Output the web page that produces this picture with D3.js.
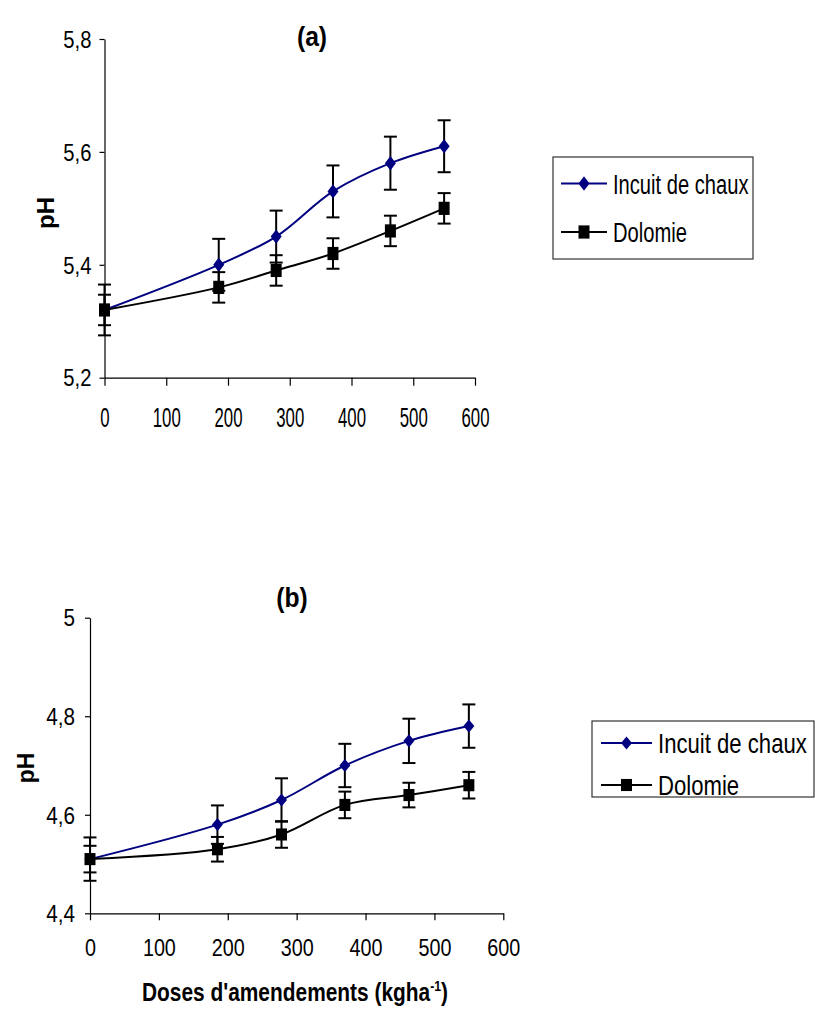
<!DOCTYPE html>
<html>
<head>
<meta charset="utf-8">
<script src="https://cdn.jsdelivr.net/npm/d3@7"></script>
<style>
  body { margin: 0; background: #fff; }
  svg text { font-family: "Liberation Sans", Arial, sans-serif; fill: #000; }
</style>
</head>
<body>
<div class="canvas"></div>
<script>
// doses (kg/ha) and pH values
const doses = [0, 185, 278, 370, 463, 550];
const xTicks = [0, 100, 200, 300, 400, 500, 600];

const phA_incuit = [5.32, 5.40, 5.45, 5.53, 5.58, 5.61];
const errA_incuit = [0.045, 0.046, 0.046, 0.046, 0.047, 0.046];
const phA_dolomie = [5.32, 5.36, 5.39, 5.42, 5.46, 5.50];
const errA_dolomie = [0.027, 0.027, 0.027, 0.027, 0.027, 0.027];
const yTicksA = [5.2, 5.4, 5.6, 5.8];

const phB_incuit = [4.51, 4.58, 4.63, 4.70, 4.75, 4.78];
const errB_incuit = [0.044, 0.039, 0.044, 0.044, 0.045, 0.044];
const phB_dolomie = [4.51, 4.53, 4.56, 4.62, 4.64, 4.66];
const errB_dolomie = [0.027, 0.025, 0.027, 0.027, 0.025, 0.027];
const yTicksB = [4.4, 4.6, 4.8, 5.0];

const seriesNames = ['Incuit de chaux', 'Dolomie'];
const seriesColors = ['#000080', '#000000'];

const svg = d3.select('.canvas')
  .append('svg')
  .attr('width', 815)
  .attr('height', 1017);

const fmt = d => String(d).replace('.', ',');

// no narrow font installed: squeeze the glyphs horizontally instead
const narrow = (sx) => `scale(${sx}, 1)`;

function drawPanel(opts) {
  const x = d3.scaleLinear().domain([0, 600]).range([opts.x0, opts.x1]);
  const y = d3.scaleLinear().domain(opts.yDomain).range([opts.yBottom, opts.yTop]);

  const g = svg.append('g');

  // axes
  const xAxis = g.append('g')
    .attr('transform', `translate(0, ${opts.yBottom})`)
    .call(d3.axisBottom(x).tickValues(xTicks).tickSize(opts.xTickLen).tickSizeOuter(0));
  xAxis.selectAll('text')
    .attr('font-size', opts.xt.size).attr('font-family', null)
    .attr('y', 0).attr('dy', '0.36em')
    .attr('transform', `translate(0, ${opts.xt.cy - opts.yBottom}) ${narrow(opts.xt.sx)}`);

  const yAxis = g.append('g')
    .attr('transform', `translate(${opts.x0}, 0)`)
    .call(d3.axisLeft(y).tickValues(opts.yTicks).tickFormat(fmt).tickSize(5).tickSizeOuter(0));
  yAxis.selectAll('text')
    .attr('font-size', opts.yt.size).attr('font-family', null)
    .attr('x', 0).attr('dy', '0.36em')
    .attr('transform', `translate(${-opts.yt.gap}, 0) ${narrow(opts.yt.sx)}`);
  g.selectAll('.domain, .tick line').attr('stroke', '#000').attr('stroke-width', 1.2);

  // title and y label
  g.append('text')
    .attr('transform', `translate(${opts.title.x}, ${opts.title.y}) ${narrow(0.88)}`)
    .attr('text-anchor', 'middle').attr('dy', '0.36em')
    .attr('font-size', 28).attr('font-weight', 'bold')
    .text(opts.title.text);

  g.append('text')
    .attr('transform', `translate(${opts.pH.x}, ${opts.pH.y}) rotate(-90)`)
    .attr('text-anchor', 'middle').attr('dy', '0.3em')
    .attr('font-size', opts.pH.size).attr('font-weight', 'bold')
    .text('pH');

  const line = d3.line()
    .x(d => x(d.dose))
    .y(d => y(d.ph))
    .curve(d3.curveCatmullRom);

  opts.series.forEach((s, k) => {
    const data = doses.map((dose, i) => ({ dose: dose, ph: s.ph[i], err: s.err[i] }));
    const sg = g.append('g');

    sg.append('path')
      .datum(data)
      .attr('fill', 'none')
      .attr('stroke', seriesColors[k])
      .attr('stroke-width', 2)
      .attr('d', line);

    // error bars
    const eb = sg.selectAll('.eb').data(data).enter().append('g');
    eb.append('line')
      .attr('x1', d => x(d.dose)).attr('x2', d => x(d.dose))
      .attr('y1', d => y(d.ph - d.err)).attr('y2', d => y(d.ph + d.err))
      .attr('stroke', '#000').attr('stroke-width', 2);
    [1, -1].forEach(sign => {
      eb.append('line')
        .attr('x1', d => x(d.dose) - 6.5).attr('x2', d => x(d.dose) + 6.5)
        .attr('y1', d => y(d.ph + sign * d.err)).attr('y2', d => y(d.ph + sign * d.err))
        .attr('stroke', '#000').attr('stroke-width', 2);
    });

    // markers
    sg.selectAll('.mk').data(data).enter().append('path')
      .attr('d', markerPath(k))
      .attr('transform', d => `translate(${x(d.dose)}, ${y(d.ph)}) scale(1, ${opts.markerStretch})`)
      .attr('fill', seriesColors[k]);
  });

  // legend
  const L = opts.legend;
  const lg = svg.append('g').attr('transform', `translate(${L.x}, ${L.y})`);
  lg.append('rect')
    .attr('width', L.w).attr('height', L.h)
    .attr('fill', '#fff').attr('stroke', '#333').attr('stroke-width', 1.2);
  seriesNames.forEach((name, k) => {
    const ry = L.rows[k];
    lg.append('line')
      .attr('x1', L.lx0).attr('x2', L.lx1)
      .attr('y1', ry).attr('y2', ry)
      .attr('stroke', seriesColors[k]).attr('stroke-width', 2);
    lg.append('path')
      .attr('d', markerPath(k))
      .attr('transform', `translate(${(L.lx0 + L.lx1) / 2}, ${ry}) scale(1, ${opts.markerStretch})`)
      .attr('fill', seriesColors[k]);
    lg.append('text')
      .attr('transform', `translate(${L.tx}, ${ry}) ${narrow(L.sx)}`)
      .attr('dy', '0.36em')
      .attr('font-size', L.size)
      .text(name);
  });
}

function markerPath(k) {
  if (k === 0) return 'M0,-6L5.5,0L0,6L-5.5,0Z';
  return 'M-5.5,-5.5H5.5V5.5H-5.5Z';
}

drawPanel({
  title: { text: '(a)', x: 312, y: 36 },
  pH: { x: 47, y: 213, size: 24 },
  x0: 104.5, x1: 475, yTop: 39, yBottom: 377.7, yDomain: [5.2, 5.8], yTicks: yTicksA,
  xTickLen: 8, markerStretch: 1.2,
  xt: { size: 28, sx: 0.6, cy: 416.7 },
  yt: { size: 23, sx: 0.88, gap: 13 },
  series: [{ ph: phA_incuit, err: errA_incuit }, { ph: phA_dolomie, err: errA_dolomie }],
  legend: { x: 553, y: 157, w: 200, h: 102, rows: [26.5, 75], lx0: 8, lx1: 54, tx: 60, size: 28, sx: 0.72 }
});

drawPanel({
  title: { text: '(b)', x: 292, y: 597 },
  pH: { x: 27, y: 768, size: 23 },
  x0: 90, x1: 503.3, yTop: 617.7, yBottom: 913.3, yDomain: [4.4, 5.0], yTicks: yTicksB,
  xTickLen: 7, markerStretch: 1.1,
  xt: { size: 23, sx: 0.86, cy: 948 },
  yt: { size: 23, sx: 0.9, gap: 15 },
  series: [{ ph: phB_incuit, err: errB_incuit }, { ph: phB_dolomie, err: errB_dolomie }],
  legend: { x: 592, y: 721, w: 222, h: 76, rows: [22, 64], lx0: 9, lx1: 60, tx: 66, size: 27, sx: 0.82 }
});

// shared x label
const xl = svg.append('text')
  .attr('transform', `translate(295, 992) ${narrow(0.82)}`)
  .attr('text-anchor', 'middle').attr('dy', '0.36em')
  .attr('font-size', 25.5).attr('font-weight', 'bold');
xl.append('tspan').text("Doses d'amendements (kgha");
xl.append('tspan').attr('dy', -10).attr('font-size', 15).text('-1');
xl.append('tspan').attr('dy', 10).text(')');
</script>
</body>
</html>
